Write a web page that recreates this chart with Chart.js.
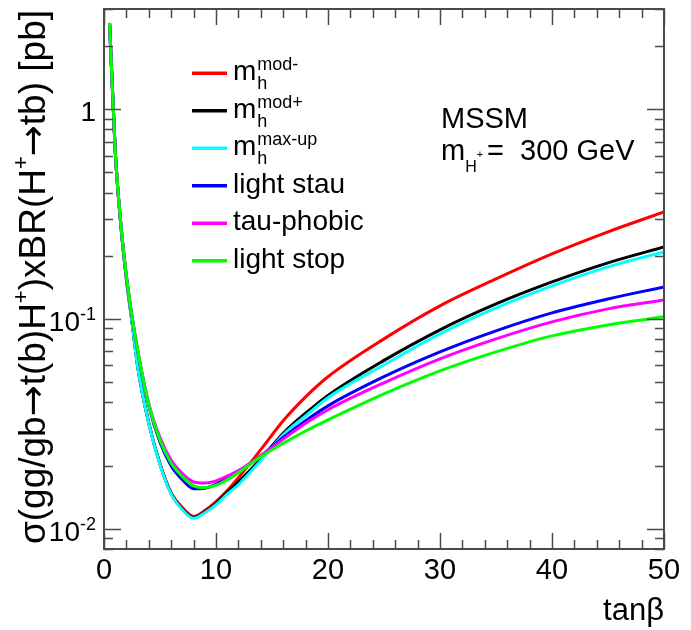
<!DOCTYPE html>
<html lang="en">
<head>
<meta charset="UTF-8" />
<title>Charged Higgs production x BR vs tan beta</title>
<style>
  * { margin: 0; padding: 0; box-sizing: border-box; }
  body { background: #ffffff; width: 691px; height: 630px; overflow: hidden; }
</style>
</head>
<body>
<canvas id="xsChart" width="691" height="630"></canvas>
<script src="https://cdn.jsdelivr.net/npm/chart.js"></script>
<script>
// tan(beta) sample points
const tanBeta = [0.5, 1, 1.5, 2, 2.5, 3, 4, 5, 6, 7, 8, 9, 10, 11, 12, 14, 16, 18, 20, 25, 30, 35, 40, 45, 50];

// sigma x BR [pb]
const mhModMinus = [2.55, 0.63, 0.28, 0.155, 0.097, 0.0596, 0.0319, 0.0204, 0.0148, 0.0126, 0.01145, 0.0122, 0.01345, 0.0152, 0.0175, 0.0238, 0.0327, 0.0425, 0.053, 0.0803, 0.1153, 0.155, 0.204, 0.26, 0.3235];
const mhModPlus = [2.55, 0.63, 0.28, 0.155, 0.097, 0.0595, 0.0318, 0.0203, 0.0147, 0.0124, 0.0113, 0.012, 0.0132, 0.0149, 0.0167, 0.0215, 0.0285, 0.0355, 0.0432, 0.0634, 0.0887, 0.1178, 0.150, 0.185, 0.2203];
const mhMaxUp = [2.55, 0.63, 0.28, 0.155, 0.096, 0.0593, 0.0317, 0.0202, 0.0146, 0.0123, 0.0112, 0.0119, 0.013, 0.0146, 0.0162, 0.0211, 0.028, 0.0345, 0.0421, 0.0604, 0.0849, 0.1128, 0.1436, 0.177, 0.2085];
const lightStau = [2.57, 0.64, 0.285, 0.16, 0.103, 0.0705, 0.0385, 0.0258, 0.0199, 0.0171, 0.0155, 0.0156, 0.0163, 0.0174, 0.0187, 0.0222, 0.0272, 0.0327, 0.0385, 0.053, 0.0696, 0.0877, 0.1068, 0.1245, 0.142];
const tauPhobic = [2.57, 0.64, 0.285, 0.16, 0.103, 0.0715, 0.0395, 0.0272, 0.0212, 0.0183, 0.0167, 0.0165, 0.0169, 0.0178, 0.0189, 0.0223, 0.0267, 0.0318, 0.0369, 0.0496, 0.0645, 0.0803, 0.0968, 0.1116, 0.1231];
const lightStop = [2.57, 0.64, 0.285, 0.16, 0.103, 0.0711, 0.0389, 0.0264, 0.0205, 0.0177, 0.016, 0.0157, 0.0161, 0.0171, 0.0185, 0.022, 0.0255, 0.0292, 0.033, 0.0439, 0.0565, 0.0696, 0.083, 0.0936, 0.1023];

// legend text pieces: main text, subscript, superscript
const legendMain = ["m", "m", "m", "light stau", "tau-phobic", "light stop"];
const legendSub = ["h", "h", "h", "", "", ""];
const legendSup = ["mod-", "mod+", "max-up", "", "", ""];

// axis ticks
const xMajorTicks = [0, 10, 20, 30, 40, 50];
const xMinorTicks = [2, 4, 6, 8, 12, 14, 16, 18, 22, 24, 26, 28, 32, 34, 36, 38, 42, 44, 46, 48];
const yMajorTicks = [0.01, 0.1, 1];
const yMajorBase = ["10", "10", "1"];
const yMajorExp = ["-2", "-1", ""];
const yMinorTicks = [0.008, 0.009, 0.02, 0.03, 0.04, 0.05, 0.06, 0.07, 0.08, 0.09,
                     0.2, 0.3, 0.4, 0.5, 0.6, 0.7, 0.8, 0.9, 2, 3];

const seriesValues = [mhModMinus, mhModPlus, mhMaxUp, lightStau, tauPhobic, lightStop];
const seriesColors = ["#ff0000", "#000000", "#00ffff", "#0000ff", "#ff00ff", "#00ff00"];

const FONT = '"Liberation Sans", Arial, Helvetica, sans-serif';
const ARROW_FONT = '"DejaVu Sans", sans-serif';
const FRAME = "#4a4a4a";

function txt(ctx, s, x, y, size, align, family) {
  ctx.font = size + "px " + (family || FONT);
  ctx.textAlign = align || "left";
  ctx.textBaseline = "alphabetic";
  ctx.fillText(s, x, y);
  return ctx.measureText(s).width;
}
function textWidth(ctx, s, size, family) {
  ctx.font = size + "px " + (family || FONT);
  return ctx.measureText(s).width;
}

// ROOT-like frame, inward ticks, labels, legend and titles
const rootStyle = {
  id: "rootStyle",
  afterDraw(chart) {
    const ctx = chart.ctx;
    const a = chart.chartArea;
    const xs = chart.scales.x, ys = chart.scales.y;
    ctx.save();
    ctx.strokeStyle = FRAME;
    ctx.fillStyle = "#000";
    ctx.lineWidth = 1.5;

    // x ticks (bottom and top)
    ctx.beginPath();
    xMajorTicks.concat(xMinorTicks).forEach(v => {
      const len = xMajorTicks.includes(v) ? 16 : 9;
      const px = Math.round(xs.getPixelForValue(v)) + 0.5;
      ctx.moveTo(px, a.bottom); ctx.lineTo(px, a.bottom - len);
      ctx.moveTo(px, a.top); ctx.lineTo(px, a.top + len);
    });
    // y ticks (left and right)
    yMajorTicks.concat(yMinorTicks).forEach(v => {
      const len = yMajorTicks.includes(v) ? 17 : 9;
      const py = Math.round(ys.getPixelForValue(v)) + 0.5;
      ctx.moveTo(a.left, py); ctx.lineTo(a.left + len, py);
      ctx.moveTo(a.right, py); ctx.lineTo(a.right - len, py);
    });
    ctx.stroke();

    // frame
    ctx.lineWidth = 2;
    ctx.strokeRect(a.left, a.top, a.right - a.left, a.bottom - a.top);

    // x labels
    xMajorTicks.forEach(v => {
      txt(ctx, String(v), xs.getPixelForValue(v), a.bottom + 30, 29, "center");
    });
    // y labels
    yMajorTicks.forEach((v, i) => {
      const py = ys.getPixelForValue(v);
      const right = a.left - 8;
      const wExp = yMajorExp[i] ? textWidth(ctx, yMajorExp[i], 18) : 0;
      txt(ctx, yMajorBase[i], right - wExp, py + 12, 28, "right");
      if (yMajorExp[i]) txt(ctx, yMajorExp[i], right, py + 1, 18, "right");
    });

    // x title
    txt(ctx, "tan\u03b2", a.right, 620, 31, "right");

    // y title, rotated, right-aligned at the top
    // kind: 0 normal, 1 superscript, 2 arrow
    const parts = [["\u03c3(gg/gb", 0], ["\u2192", 2], ["t(b)H", 0], ["+", 1], [")xBR(H", 0], ["+", 1],
                   ["\u2192", 2], ["tb) [pb]", 0]];
    const TS = 37, SS = 22;
    const sizeOf = k => (k === 1 ? SS : TS);
    const famOf = k => (k === 2 ? ARROW_FONT : FONT);
    let total = 0;
    parts.forEach(p => { total += textWidth(ctx, p[0], sizeOf(p[1]), famOf(p[1])); });
    ctx.save();
    ctx.translate(45, 10);
    ctx.rotate(-Math.PI / 2);
    let cx = -total;
    parts.forEach(p => {
      const dy = p[1] === 1 ? -17 : 0;
      cx += txt(ctx, p[0], cx, dy, sizeOf(p[1]), "left", famOf(p[1]));
    });
    ctx.restore();

    // legend
    const lx0 = 192, lx1 = 227, tx = 233, ly0 = 73.3, dy = 37.5;
    legendMain.forEach((m, i) => {
      const y = ly0 + i * dy;
      ctx.strokeStyle = seriesColors[i];
      ctx.lineWidth = 3.5;
      ctx.beginPath(); ctx.moveTo(lx0, y); ctx.lineTo(lx1, y); ctx.stroke();
      ctx.fillStyle = "#000";
      const w = txt(ctx, m, tx, y + 7, 28, "left");
      if (legendSub[i]) txt(ctx, legendSub[i], tx + w + 1, y + 16, 18, "left");
      if (legendSup[i]) txt(ctx, legendSup[i], tx + w + 1, y - 3, 18, "left");
    });

    // annotation
    ctx.fillStyle = "#000";
    txt(ctx, "MSSM", 441, 128, 29, "left");
    const wm = txt(ctx, "m", 441, 160, 29, "left");
    const wh = txt(ctx, "H", 441 + wm, 171.5, 16, "left");
    txt(ctx, "+", 441 + wm + wh, 158, 11, "left");
    txt(ctx, "=", 487, 160, 29, "left");
    txt(ctx, "300 GeV", 520, 160, 29, "left");

    ctx.restore();
  }
};

const datasets = seriesValues.map((vals, i) => ({
  label: legendMain[i] + legendSub[i] + legendSup[i],
  data: tanBeta.map((t, j) => ({ x: t, y: vals[j] })),
  borderColor: seriesColors[i],
  borderWidth: 3,
  pointRadius: 0,
  fill: false,
  cubicInterpolationMode: "monotone",
  order: seriesValues.length - 1 - i   // last series drawn on top, as in the original
}));

new Chart(document.getElementById("xsChart").getContext("2d"), {
  type: "line",
  data: { datasets: datasets },
  options: {
    responsive: false,
    devicePixelRatio: 1,
    animation: false,
    events: [],
    layout: { padding: { left: 104, right: 27, top: 9, bottom: 81 } },
    scales: {
      x: { type: "linear", min: 0, max: 50, display: false },
      y: { type: "logarithmic", min: 0.008, max: 3, display: false }
    },
    plugins: {
      legend: { display: false },
      tooltip: { enabled: false }
    }
  },
  plugins: [rootStyle]
});
</script>
</body>
</html>
